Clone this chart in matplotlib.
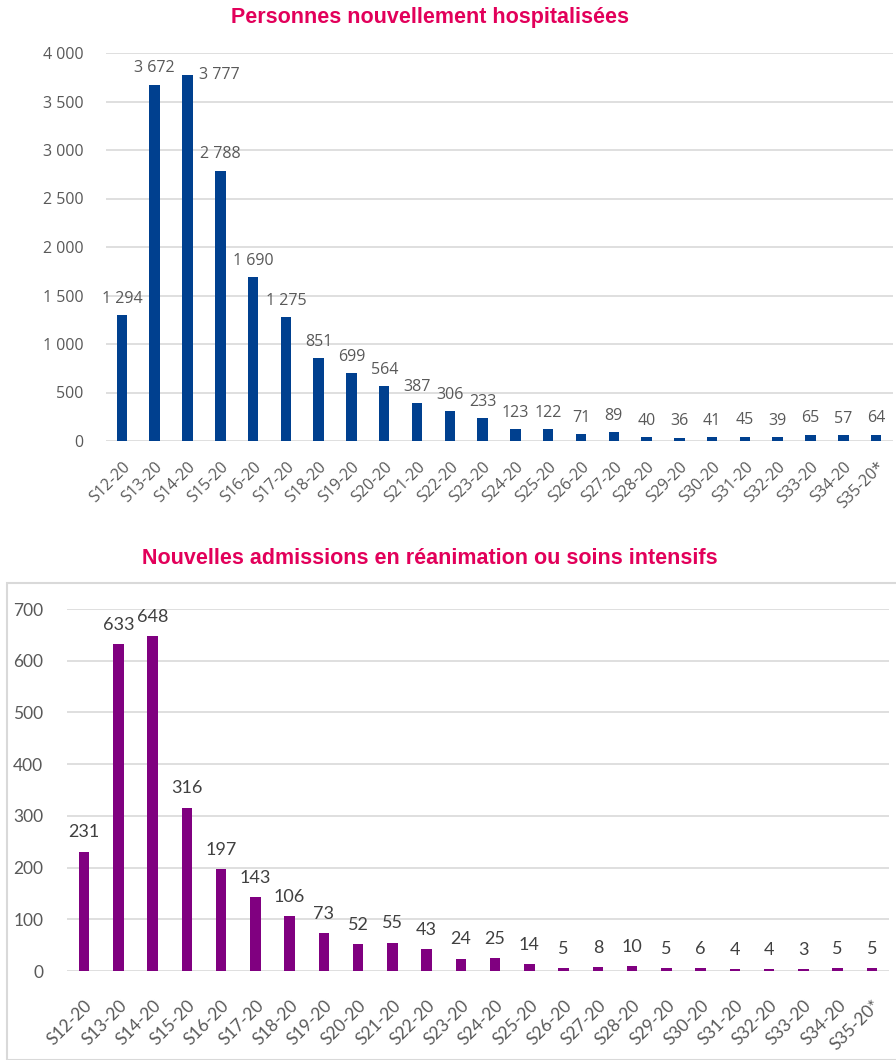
import matplotlib
matplotlib.use("Agg")
import matplotlib.pyplot as plt
from matplotlib.patches import Rectangle

weeks = ["S12-20", "S13-20", "S14-20", "S15-20", "S16-20", "S17-20", "S18-20", "S19-20",
         "S20-20", "S21-20", "S22-20", "S23-20", "S24-20", "S25-20", "S26-20", "S27-20",
         "S28-20", "S29-20", "S30-20", "S31-20", "S32-20", "S33-20", "S34-20", "S35-20*"]
hospitalisations = [1294, 3672, 3777, 2788, 1690, 1275, 851, 699, 564, 387, 306, 233,
                    123, 122, 71, 89, 40, 36, 41, 45, 39, 65, 57, 64]
reanimations = [231, 633, 648, 316, 197, 143, 106, 73, 52, 55, 43, 24,
                25, 14, 5, 8, 10, 5, 6, 4, 4, 3, 5, 5]
title_top = "Personnes nouvellement hospitalisées"
title_bottom = "Nouvelles admissions en réanimation ou soins intensifs"
yticks_top = [0, 500, 1000, 1500, 2000, 2500, 3000, 3500, 4000]
yticks_bottom = [0, 100, 200, 300, 400, 500, 600, 700]

W, H = 896, 1060
fig = plt.figure(figsize=(W / 100, H / 100), dpi=100)

TITLE_C = "#E2005A"
GRID_C = "#D9D9D9"
TXT_C = "#595959"

def fmt(v):
    return f"{v:,}".replace(",", " ")

def ax_rect(l, t, r, b):
    return [l / W, 1 - b / H, (r - l) / W, (b - t) / H]

x = list(range(len(weeks)))

# ---------- top chart ----------
ax1 = fig.add_axes(ax_rect(105.5, 53, 892.5, 441))
ax1.bar(x, hospitalisations, width=0.32, color="#00408F", zorder=3)
ax1.set_xlim(-0.5, len(weeks) - 0.5)
ax1.set_ylim(0, 4000)
ax1.set_yticks(yticks_top)
ax1.set_yticklabels([fmt(v) for v in yticks_top])
for s in ax1.spines.values():
    s.set_visible(False)
ax1.grid(axis="y", color=GRID_C, lw=1.2, zorder=0)
ax1.tick_params(axis="both", length=0, colors=TXT_C)
ax1.tick_params(axis="y", pad=16, labelsize=11.5)
ax1.set_xticks(x)
ax1.set_xticklabels(weeks, rotation=45, ha="right", rotation_mode="anchor",
                    fontsize=11.5, color=TXT_C, family="Open Sans")
ax1.tick_params(axis="x", pad=13)
for lab in ax1.get_yticklabels():
    lab.set_family("Open Sans")
for i, v in enumerate(hospitalisations):
    if v == max(hospitalisations):
        ax1.annotate(fmt(v), (i, v), xytext=(8, 0), textcoords="offset points",
                     ha="left", va="center", fontsize=11.5, color=TXT_C, family="Open Sans")
    else:
        ax1.annotate(fmt(v), (i, v), xytext=(0, 6), textcoords="offset points",
                     ha="center", va="bottom", fontsize=11.5, color=TXT_C, family="Open Sans")
fig.text(430 / W, 1 - 17 / H, title_top, ha="center", va="center", fontsize=15.5,
         fontweight="bold", color=TITLE_C, family="Liberation Sans")

# ---------- bottom chart ----------
fig.patches.append(Rectangle((7 / W, 0), 1.0, 1 - 583 / H, transform=fig.transFigure,
                             fill=False, edgecolor=GRID_C, lw=1.5, zorder=0))
ax2 = fig.add_axes(ax_rect(67, 609, 889, 971))
ax2.bar(x, reanimations, width=0.3, color="#800080", zorder=3)
ax2.set_xlim(-0.5, len(weeks) - 0.5)
ax2.set_ylim(0, 700)
ax2.set_yticks(yticks_bottom)
for s in ax2.spines.values():
    s.set_visible(False)
ax2.grid(axis="y", color=GRID_C, lw=1.2, zorder=0)
ax2.tick_params(axis="both", length=0, colors=TXT_C)
ax2.tick_params(axis="y", pad=17, labelsize=12.5)
for lab in ax2.get_yticklabels():
    lab.set_family("Lato")
ax2.set_xticks(x)
ax2.set_xticklabels(weeks, rotation=45, ha="right", rotation_mode="anchor",
                    fontsize=12.5, color=TXT_C, family="Lato")
ax2.tick_params(axis="x", pad=19)
for i, v in enumerate(reanimations):
    ax2.annotate(fmt(v), (i, v), xytext=(0, 8), textcoords="offset points",
                 ha="center", va="bottom", fontsize=13, color="#404040", family="Lato")
fig.text(430 / W, 1 - 558 / H, title_bottom, ha="center", va="center", fontsize=15.5,
         fontweight="bold", color=TITLE_C, family="Liberation Sans")

fig.savefig("out.png", dpi=100, facecolor="white")
